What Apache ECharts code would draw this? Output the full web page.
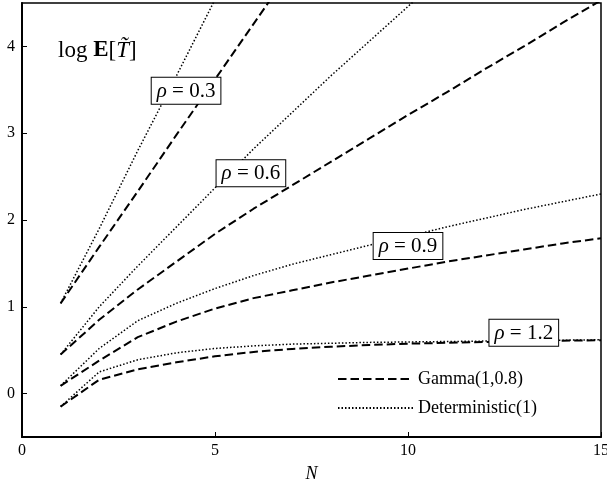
<!DOCTYPE html>
<html>
<head>
<meta charset="utf-8">
<script src="https://cdn.jsdelivr.net/npm/echarts@6/dist/echarts.min.js"></script>
<style>
html,body{margin:0;padding:0;background:#fff;}
#chart{width:607px;height:481px;}
</style>
</head>
<body>
<div id="chart"></div>
<script>
const N = [1, 2, 3, 4, 5, 6, 7, 8, 9, 10, 11, 12, 13, 14, 15];

// rho = 0.3
const det03 = [1.04, 1.90, 2.80, 3.66, 4.54];
const gam03 = [1.04, 1.69, 2.33, 2.98, 3.62, 4.26, 4.90];
// rho = 0.6
const det06 = [0.45, 1.00, 1.47, 1.92, 2.37, 2.82, 3.24, 3.66, 4.06, 4.46, 4.86];
const gam06 = [0.45, 0.85, 1.20, 1.52, 1.84, 2.13, 2.40, 2.67, 2.94, 3.21, 3.47, 3.74, 4.00, 4.27, 4.53];
// rho = 0.9
const det09 = [0.09, 0.52, 0.84, 1.04, 1.21, 1.36, 1.49, 1.60, 1.71, 1.81, 1.92, 2.02, 2.12, 2.21, 2.30];
const gam09 = [0.09, 0.38, 0.65, 0.83, 0.98, 1.10, 1.19, 1.28, 1.36, 1.44, 1.52, 1.59, 1.66, 1.73, 1.79];
// rho = 1.2
const det12 = [-0.15, 0.25, 0.39, 0.47, 0.52, 0.55, 0.57, 0.58, 0.59, 0.595, 0.60, 0.605, 0.61, 0.615, 0.62];
const gam12 = [-0.15, 0.16, 0.28, 0.36, 0.43, 0.48, 0.515, 0.54, 0.56, 0.575, 0.585, 0.595, 0.60, 0.61, 0.615];

const rhoLabels = ['0.3', '0.6', '0.9', '1.2'];
const labelN = [4.25, 5.93, 10.0, 13.0];
const labelY = [3.49, 2.54, 1.70, 0.70];

const yTicks = [0, 1, 2, 3, 4];
const GAMMA = 'Gamma(1,0.8)';
const DET = 'Deterministic(1)';
const FONT = '"Liberation Serif", "DejaVu Serif", serif';

function pairs(vals) { return vals.map((v, i) => [N[i], v]); }

const dashedStyle = { color: '#000', width: 2, type: [8.5, 4], cap: 'butt' };
const dottedStyle = { color: '#000', width: 1.5, type: [1.5, 2], cap: 'butt' };

function lineSeries(name, vals, style) {
  return {
    name: name, type: 'line', data: pairs(vals), symbol: 'none',
    itemStyle: { color: '#000' },
    lineStyle: style, clip: true, silent: true, animation: false, z: 3
  };
}

const series = [
  lineSeries(GAMMA, gam03, dashedStyle), lineSeries(DET, det03, dottedStyle),
  lineSeries(GAMMA, gam06, dashedStyle), lineSeries(DET, det06, dottedStyle),
  lineSeries(GAMMA, gam09, dashedStyle), lineSeries(DET, det09, dottedStyle),
  lineSeries(GAMMA, gam12, dashedStyle), lineSeries(DET, det12, dottedStyle),
  {
    type: 'scatter', name: 'labels', symbolSize: 1,
    itemStyle: { color: 'rgba(255,255,255,0)', opacity: 1 },
    z: 10, animation: false, silent: true,
    data: rhoLabels.map((r, i) => ({ value: [labelN[i], labelY[i]], r: r })),
    label: {
      show: true, position: 'inside', opacity: 1,
      formatter: p => '{i|ρ} = ' + p.data.r,
      fontFamily: FONT, fontSize: 21, color: '#000', textBorderWidth: 0,
      backgroundColor: '#fff', borderColor: '#000', borderWidth: 1,
      padding: [3, 5, 2, 5],
      rich: { i: { fontFamily: FONT, fontSize: 21, fontStyle: 'italic', color: '#000', textBorderWidth: 0 } }
    }
  }
];

const chart = echarts.init(document.getElementById('chart'), null, { renderer: 'canvas' });
chart.setOption({
  animation: false,
  backgroundColor: '#fff',
  grid: {
    left: 22, right: 6, top: 3, bottom: 44, containLabel: false, outerBoundsMode: 'none',
    show: true, borderColor: '#000', borderWidth: 1.5, backgroundColor: 'transparent'
  },
  title: {
    text: '{n|log }{b|E}{n|[}{it|T\u0303}{n|]}',
    left: 53, top: 34,
    textStyle: {
      fontWeight: 'normal',
      rich: {
        n: { fontFamily: FONT, fontSize: 23, fontWeight: 'normal', color: '#000' },
        b: { fontFamily: FONT, fontSize: 23, fontWeight: 'bold', color: '#000' },
        it: { fontFamily: FONT, fontSize: 23, fontWeight: 'normal', fontStyle: 'italic', color: '#000' }
      }
    }
  },
  legend: {
    data: [GAMMA, DET],
    orient: 'vertical', left: 332, top: 364,
    itemWidth: 75, itemHeight: 14, itemGap: 9,
    itemStyle: { opacity: 0 },
    textStyle: { fontFamily: FONT, fontSize: 18, color: '#000', lineHeight: 20 },
    selectedMode: false
  },
  xAxis: {
    type: 'value', min: 0, max: 15, interval: 5,
    name: 'N', nameLocation: 'middle', nameGap: 28,
    nameTextStyle: { fontFamily: FONT, fontSize: 18, fontStyle: 'italic', color: '#000' },
    axisLine: { show: true, onZero: false, lineStyle: { color: '#000', width: 2 } },
    axisTick: { show: true, inside: true, length: 5, lineStyle: { color: '#000', width: 1 } },
    axisLabel: { fontFamily: FONT, fontSize: 16, color: '#000', margin: 6 },
    splitLine: { show: false }
  },
  yAxis: {
    type: 'value', min: -0.5, max: 4.5,
    axisLine: { show: true, onZero: false, lineStyle: { color: '#000', width: 2 } },
    axisTick: { show: true, inside: true, length: 5, customValues: yTicks, lineStyle: { color: '#000', width: 1 } },
    axisLabel: { fontFamily: FONT, fontSize: 16, color: '#000', margin: 7, customValues: yTicks },
    splitLine: { show: false }
  },
  series: series
});
</script>
</body>
</html>
